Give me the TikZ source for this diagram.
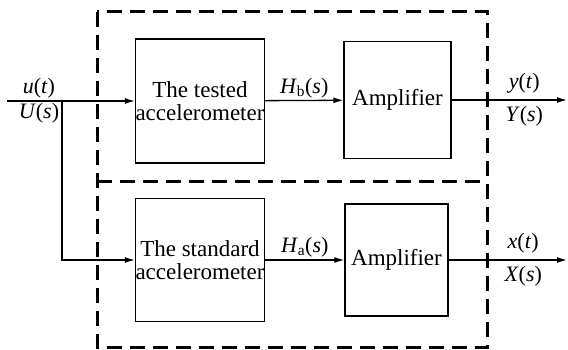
\documentclass[tikz,border=0pt]{standalone}
\usepackage{fontspec}
\setmainfont{Liberation Serif}
\usetikzlibrary{arrows.meta,positioning}
\newcommand{\vit}[1]{\textit{#1}}

\begin{document}
\begin{tikzpicture}[
    x=1pt, y=1pt,
    block/.style={rectangle, draw, line width=1.3pt, align=center,
        inner sep=0pt, font=\fontsize{23}{23}\selectfont},
    sig/.style={font=\fontsize{22}{23}\selectfont, inner sep=2pt},
    outsig/.style={sig, inner sep=6pt},
    arrow/.style={-{Latex[length=10pt,width=6pt]}, line width=1.3pt},
    frame/.style={dash pattern=on 15pt off 8pt, line width=3pt}
]
    \useasboundingbox (0,0) rectangle (568,349);
    % dashed frames
    \draw[frame] (97,337) rectangle (487,1.5);
    \draw[frame] (97,168) -- (487,168);

    \node[block, minimum width=128pt, minimum height=124pt] (tested) at (200,248) {The tested\\accelerometer};
    \node[block, minimum width=107pt, minimum height=117pt] (ampA) at (397.5,249) {Amplifier};
    \node[block, minimum width=128pt, minimum height=123pt] (standard) at (200,89) {The standard\\accelerometer};
    \node[block, minimum width=103pt, minimum height=112pt] (ampB) at (396.5,89) {Amplifier};

    \coordinate (in) at (7,248);
    \coordinate (br) at (62,248);
    \coordinate (outA) at (567,249);
    \coordinate (outB) at (567,89);

    \draw[arrow] (in) -- (tested)
        node[pos=0.25, above, sig] {\vit{u}(\vit{t})}
        node[pos=0.25, below, sig] {\vit{U}(\vit{s})};
    \draw[arrow] (br) |- (standard);
    \draw[arrow] (tested) -- (ampA) node[midway, above, sig] {\vit{H}\textsubscript{b}(\vit{s})};
    \draw[arrow] (standard) -- (ampB) node[midway, above, sig] {\vit{H}\textsubscript{a}(\vit{s})};
    \draw[arrow] (ampA) -- (outA)
        node[pos=0.63, above, outsig] {\vit{y}(\vit{t})}
        node[pos=0.63, below, outsig] {\vit{Y}(\vit{s})};
    \draw[arrow] (ampB) -- (outB)
        node[pos=0.63, above, outsig] {\vit{x}(\vit{t})}
        node[pos=0.63, below, outsig] {\vit{X}(\vit{s})};
\end{tikzpicture}
\end{document}
